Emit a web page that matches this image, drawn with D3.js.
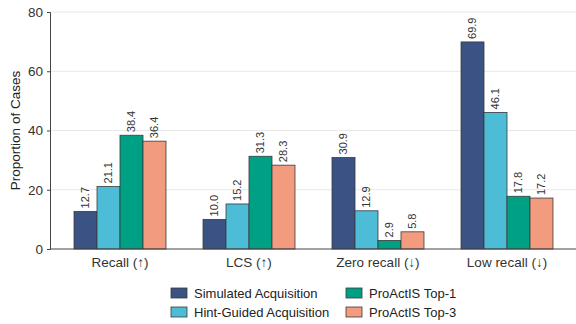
<!DOCTYPE html>
<html>
<head>
<meta charset="utf-8">
<script src="https://cdn.jsdelivr.net/npm/d3@7"></script>
<style>
  body { margin: 0; background: #fff; }
  svg { display: block; font-family: "Liberation Sans", Arial, sans-serif; }
</style>
</head>
<body>
<svg id="chart" width="576" height="324"></svg>
<script>
// data
const categories = ["Recall (↑)", "LCS (↑)", "Zero recall (↓)", "Low recall (↓)"];
const seriesNames = ["Simulated Acquisition", "Hint-Guided Acquisition", "ProActIS Top-1", "ProActIS Top-3"];
const simulated = [12.7, 10.0, 30.9, 69.9];
const hintGuided = [21.1, 15.2, 12.9, 46.1];
const top1 = [38.4, 31.3, 2.9, 17.8];
const top3 = [36.4, 28.3, 5.8, 17.2];
const yTicks = [0, 20, 40, 60, 80];

const seriesValues = [simulated, hintGuided, top1, top3];
const colors = ["#3b5285", "#4dbcd7", "#00a084", "#f29b7e"];

const svg = d3.select("#chart");

// scales
const x = d3.scaleBand().domain(categories).range([55.5, 571.5])
    .paddingInner(0.287).paddingOuter(0.1435);
const xs = d3.scaleBand().domain(seriesNames).range([0, x.bandwidth()]);
const y = d3.scaleLinear().domain([0, 80]).range([249, 12]);

const left = 50, right = 576;

// gridlines
svg.append("g")
    .selectAll("line")
    .data(yTicks.filter(d => d > 0))
    .join("line")
    .attr("x1", left).attr("x2", right)
    .attr("y1", d => y(d)).attr("y2", d => y(d))
    .attr("stroke", "#e8e8e8")
    .attr("stroke-width", 1);

// bars
const groups = svg.append("g")
    .selectAll("g")
    .data(seriesNames)
    .join("g");

groups.selectAll("rect")
    .data((s, i) => categories.map((c, j) => ({ s, c, v: seriesValues[i][j], i })))
    .join("rect")
    .attr("x", d => x(d.c) + xs(d.s))
    .attr("y", d => y(d.v))
    .attr("width", xs.bandwidth())
    .attr("height", d => y(0) - y(d.v))
    .attr("fill", d => colors[d.i])
    .attr("stroke", "#3a3a3a")
    .attr("stroke-width", 0.8);

// value labels
groups.selectAll("text")
    .data((s, i) => categories.map((c, j) => ({ s, c, v: seriesValues[i][j] })))
    .join("text")
    .attr("transform", d => {
        const cx = x(d.c) + xs(d.s) + xs.bandwidth() / 2;
        return `translate(${cx},${y(d.v) - 3}) rotate(-90)`;
    })
    .attr("dy", "0.35em")
    .attr("font-size", 11)
    .attr("fill", "#333")
    .text(d => d.v.toFixed(1));

// y axis
const yAxis = svg.append("g")
    .attr("transform", `translate(${left},0)`)
    .call(d3.axisLeft(y).tickValues(yTicks).tickSize(3).tickPadding(4));
yAxis.select(".domain").attr("stroke", "#444");
yAxis.selectAll(".tick line").attr("stroke", "#444");
yAxis.selectAll(".tick text").attr("font-size", 13.5).attr("fill", "#333")
    .attr("font-family", "Liberation Sans, Arial, sans-serif");

// x axis
svg.append("line")
    .attr("x1", left).attr("x2", right)
    .attr("y1", y(0)).attr("y2", y(0))
    .attr("stroke", "#444");

svg.append("g")
    .selectAll("text")
    .data(categories)
    .join("text")
    .attr("x", d => x(d) + x.bandwidth() / 2)
    .attr("y", 267)
    .attr("text-anchor", "middle")
    .attr("font-size", 13.5)
    .attr("fill", "#333")
    .text(d => d);

// y label
svg.append("text")
    .attr("transform", `translate(19.5,${y(40)}) rotate(-90)`)
    .attr("text-anchor", "middle")
    .attr("font-size", 13.5)
    .attr("fill", "#222")
    .text("Proportion of Cases");

// legend
const legendPos = [[171, 288], [171, 307], [346, 288], [346, 307]];
const legend = svg.append("g")
    .selectAll("g")
    .data(seriesNames)
    .join("g")
    .attr("transform", (d, i) => `translate(${legendPos[i][0]},${legendPos[i][1]})`);
legend.append("rect")
    .attr("width", 16).attr("height", 10)
    .attr("fill", (d, i) => colors[i])
    .attr("stroke", "#3a3a3a")
    .attr("stroke-width", 0.8);
legend.append("text")
    .attr("x", 23).attr("y", 5)
    .attr("dy", "0.35em")
    .attr("font-size", 13)
    .attr("fill", "#222")
    .text(d => d);
</script>
</body>
</html>
